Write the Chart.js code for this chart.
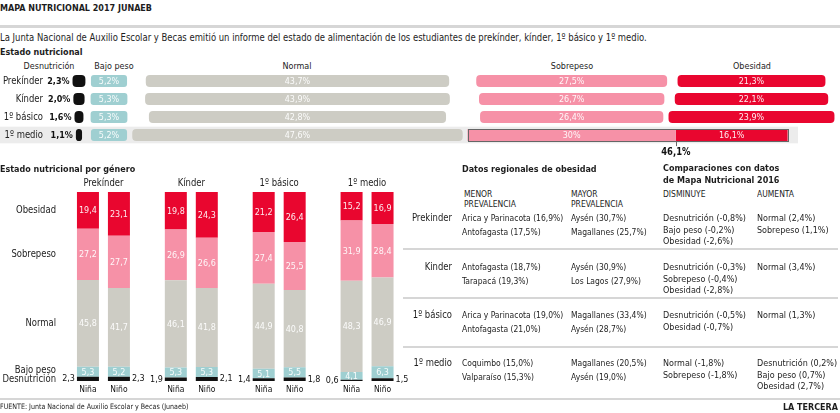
<!DOCTYPE html>
<html>
<head>
<meta charset="utf-8">
<script src="https://cdn.jsdelivr.net/npm/chart.js@4/dist/chart.umd.min.js"></script>
<style>
  body { margin:0; width:840px; height:413px; position:relative; overflow:hidden; background:#fff;
         font-family:"DejaVu Sans Condensed","DejaVu Sans",sans-serif; color:#1d1d1d; }
  .t { position:absolute; white-space:nowrap; line-height:12px; font-size:10px;
       transform-origin:left center; transform:scaleX(.94); }
  .b { font-weight:bold; }
  .r { transform-origin:right center; transform:translateX(-100%) scaleX(.94); }
  .c { transform-origin:center center; transform:translateX(-50%) scaleX(.94); }
  .hr { position:absolute; height:2px; background:#d6d6d6; }
  canvas { position:absolute; }
</style>
</head>
<body>
<canvas id="top" width="840" height="91" style="left:0;top:72px"></canvas>
<canvas id="gen" width="420" height="238" style="left:0;top:160px"></canvas>
<div id="txt"></div>
<script>
// ---- datos: estado nutricional por nivel ----
const grades = ['Prekínder', 'Kínder', '1º básico', '1º medio'];
const estados = ['Desnutrición', 'Bajo peso', 'Normal', 'Sobrepeso', 'Obesidad'];
const desnutricion = [2.3, 2.0, 1.6, 1.1];
const bajoPeso = [5.2, 5.3, 5.3, 5.2];
const normal = [43.7, 43.9, 42.8, 47.6];
const sobrepeso = [27.5, 26.7, 26.4, 30];
const obesidad = [21.3, 22.1, 23.9, 16.1];

// ---- datos: por género ----
const generos = ['Niña', 'Niño'];
const nina = {
  desn:   [2.3, 1.9, 1.4, 0.6],
  bajo:   [5.3, 5.3, 5.1, 4.1],
  normal: [45.8, 46.1, 44.9, 48.3],
  sobre:  [27.2, 26.9, 27.4, 31.9],
  obes:   [19.4, 19.8, 21.2, 15.2]
};
const nino = {
  desn:   [2.3, 2.1, 1.8, 1.5],
  bajo:   [5.2, 5.3, 5.5, 6.3],
  normal: [41.7, 41.8, 40.8, 46.9],
  sobre:  [27.7, 26.6, 25.5, 28.4],
  obes:   [23.1, 24.3, 26.4, 16.9]
};

// ---- tablas de texto ----
const tablaGrades = ['Prekinder', 'Kinder', '1º básico', '1º medio'];
const menorPrev = [
  ['Arica y Parinacota (16,9%)', 'Antofagasta (17,5%)'],
  ['Antofagasta (18,7%)', 'Tarapacá (19,3%)'],
  ['Arica y Parinacota (19,0%)', 'Antofagasta (21,0%)'],
  ['Coquimbo (15,0%)', 'Valparaíso (15,3%)']
];
const mayorPrev = [
  ['Aysén (30,7%)', 'Magallanes (25,7%)'],
  ['Aysén (30,9%)', 'Los Lagos (27,9%)'],
  ['Magallanes (33,4%)', 'Aysén (28,7%)'],
  ['Magallanes (20,5%)', 'Aysén (19,0%)']
];
const disminuye = [
  ['Desnutrición (-0,8%)', 'Bajo peso (-0,2%)', 'Obesidad (-2,6%)'],
  ['Desnutrición (-0,3%)', 'Sobrepeso (-0,4%)', 'Obesidad (-2,8%)'],
  ['Desnutrición (-0,5%)', 'Obesidad (-0,7%)'],
  ['Normal (-1,8%)', 'Sobrepeso (-1,8%)']
];
const aumenta = [
  ['Normal (2,4%)', 'Sobrepeso (1,1%)'],
  ['Normal (3,4%)'],
  ['Normal (1,3%)'],
  ['Desnutrición (0,2%)', 'Bajo peso (0,7%)', 'Obesidad (2,7%)']
];

const COLORS = { desn: '#111111', bajo: '#9fcfd1', normal: '#cdccc4', sobre: '#f691a7', obes: '#e9062f' };
const FONT = '"DejaVu Sans Condensed","DejaVu Sans",sans-serif';
const SX = 0.94; // estrechar el texto
const fmt = v => String(v).replace('.', ',');
const pct = v => (v % 1 === 0 && v >= 10 ? String(v) : v.toFixed(1)).replace('.', ',') + '%';

// ---------- textos html ----------
const box = document.getElementById('txt');
function txt(x, cy, s, cls = '', size = 10) {
  const d = document.createElement('div');
  d.className = 't ' + cls;
  d.style.left = x + 'px';
  d.style.top = (cy - 6) + 'px';
  d.style.fontSize = size + 'px';
  d.textContent = s;
  box.appendChild(d);
}
function hr(x, y, w, h = 2) {
  const d = document.createElement('div');
  d.className = 'hr';
  d.style.cssText = `left:${x}px;top:${y}px;width:${w}px;height:${h}px`;
  box.appendChild(d);
}

txt(0, 8, 'MAPA NUTRICIONAL 2017 JUNAEB', 'b', 9.5);
hr(0, 25, 840, 3);
txt(0, 38, 'La Junta Nacional de Auxilio Escolar y Becas emitió un informe del estado de alimentación de los estudiantes de prekínder, kínder, 1º básico y 1º medio.', '', 10);
txt(0, 52, 'Estado nutricional', 'b', 9.5);
txt(49, 66, 'Desnutrición', 'c', 9.5);
txt(114, 66, 'Bajo peso', 'c', 9.5);
txt(297, 66, 'Normal', 'c', 9.5);
txt(572, 66, 'Sobrepeso', 'c', 9.5);
txt(752, 66, 'Obesidad', 'c', 9.5);

txt(0, 169, 'Estado nutricional por género', 'b', 9.5);

// tablas
txt(462, 169, 'Datos regionales de obesidad', 'b', 9.5);
txt(464, 194, 'MENOR', '', 9); txt(464, 204, 'PREVALENCIA', '', 9);
txt(571, 194, 'MAYOR', '', 9); txt(571, 204, 'PREVALENCIA', '', 9);
txt(663, 168, 'Comparaciones con datos', 'b', 9.5);
txt(663, 180, 'de Mapa Nutricional 2016', 'b', 9.5);
txt(663, 194, 'DISMINUYE', '', 9);
txt(757, 194, 'AUMENTA', '', 9);
const rowY = [218, 267, 315, 363];
tablaGrades.forEach((g, i) => {
  txt(452, rowY[i], g, 'r', 10);
  menorPrev[i].forEach((s, j) => txt(462, rowY[i] + j * 13.5, s, '', 9));
  mayorPrev[i].forEach((s, j) => txt(571, rowY[i] + j * 13.5, s, '', 9));
  disminuye[i].forEach((s, j) => txt(663, rowY[i] + j * 11.6, s, '', 9.5));
  aumenta[i].forEach((s, j) => txt(757, rowY[i] + j * 11.6, s, '', 9.5));
});
[248, 297, 346].forEach(y => hr(403, y, 435, 1.5));
hr(0, 398, 840, 2);
txt(0, 407, 'FUENTE: Junta Nacional de Auxilio Escolar y Becas (Junaeb)', '', 7.5);
txt(838, 407, 'LA TERCERA', 'b r', 9.5);

// texto en canvas, estrechado igual que el html
function say(c, s, x, y, align, font, color) {
  c.save();
  c.font = font; c.fillStyle = color; c.textAlign = align; c.textBaseline = 'middle';
  c.translate(x, y); c.scale(SX, 1);
  c.fillText(s, 0, 0);
  c.restore();
}

// ---------- gráfico superior ----------
const COL = { desn: 14.1, bajo: 15.7, normal: 42.85, sobre: 82.35, obes: 108.25 }; // centros de columna (en %)
const HL = 3; // fila destacada (1º medio)
const centered = (vals, c) => vals.map(v => [c - v / 2, c + v / 2]);
const obesBars = obesidad.map((v, i) => i === HL
  ? [COL.sobre + sobrepeso[i] / 2, COL.sobre + sobrepeso[i] / 2 + v]
  : [COL.obes - v / 2, COL.obes + v / 2]);

const topPlugin = {
  id: 'topPlugin',
  beforeDatasetsDraw(chart) {
    const c = chart.ctx, y = chart.scales.y.getPixelForValue(HL);
    c.save();
    c.fillStyle = '#ececec';
    c.fillRect(0, y - 8.3, 798, 16.6);
    c.restore();
  },
  afterDatasetsDraw(chart) {
    const c = chart.ctx, ys = chart.scales.y;
    grades.forEach((g, i) => say(c, g, 43, ys.getPixelForValue(i) + 0.5, 'right', '10px ' + FONT, '#222'));
    chart.data.datasets.forEach((ds, di) => {
      chart.getDatasetMeta(di).data.forEach((bar, i) => {
        const v = ds.raw[i];
        const left = Math.min(bar.x, bar.base), right = Math.max(bar.x, bar.base);
        if (di === 0) say(c, pct(v), left - 3, bar.y + 0.5, 'right', 'bold 9.5px ' + FONT, '#111');
        else say(c, pct(v), (left + right) / 2, bar.y + 0.5, 'center', '9.5px ' + FONT, 'rgba(255,255,255,0.92)');
      });
    });
    // recuadro y total de la fila destacada
    const s = chart.getDatasetMeta(3).data[HL], o = chart.getDatasetMeta(4).data[HL];
    const h = s.height;
    c.save();
    c.strokeStyle = '#666'; c.lineWidth = 1;
    c.strokeRect(Math.round(s.base) + 0.5, Math.round(s.y - h / 2) + 0.5, Math.round(o.x - s.base), Math.round(h));
    c.beginPath(); c.moveTo(Math.round(o.base) + 0.5, s.y + h / 2); c.lineTo(Math.round(o.base) + 0.5, s.y + h / 2 + 5); c.stroke();
    c.restore();
    say(c, pct(Math.round((sobrepeso[HL] + obesidad[HL]) * 10) / 10), o.base, s.y + h / 2 + 11, 'center', 'bold 10px ' + FONT, '#111');
  }
};

const rad = r => ctx => ctx.dataIndex === HL && ctx.datasetIndex >= 3 ? 0 : r;
new Chart(document.getElementById('top'), {
  type: 'bar',
  data: {
    labels: grades,
    datasets: [
      { label: estados[0], raw: desnutricion, data: centered(desnutricion, COL.desn), xAxisID: 'xd', backgroundColor: COLORS.desn, borderRadius: 4 },
      { label: estados[1], raw: bajoPeso, data: centered(bajoPeso, COL.bajo), backgroundColor: COLORS.bajo, borderRadius: 3 },
      { label: estados[2], raw: normal, data: centered(normal, COL.normal), backgroundColor: COLORS.normal, borderRadius: 4 },
      { label: estados[3], raw: sobrepeso, data: centered(sobrepeso, COL.sobre), backgroundColor: COLORS.sobre, borderRadius: rad(4) },
      { label: estados[4], raw: obesidad, data: obesBars, backgroundColor: COLORS.obes, borderRadius: rad(4) }
    ]
  },
  options: {
    indexAxis: 'y',
    responsive: false,
    animation: false,
    layout: { padding: { top: 0, bottom: 19, left: 0, right: 0 } },
    datasets: { bar: { grouped: false, categoryPercentage: 1, barPercentage: 0.68, borderSkipped: false } },
    plugins: { legend: { display: false }, tooltip: { enabled: false } },
    scales: {
      y: { display: false },
      x: { type: 'linear', display: false, min: 0, max: 121 },
      xd: { type: 'linear', axis: 'x', display: false, min: 0, max: 150 }
    }
  },
  plugins: [topPlugin]
});

// ---------- gráfico por género ----------
const keys = ['desn', 'bajo', 'normal', 'sobre', 'obes'];
const genDatasets = [];
[nina, nino].forEach((g, gi) => {
  keys.forEach((k, ki) => {
    genDatasets.push({
      label: estados[ki] + ' ' + generos[gi],
      data: g[k],
      stack: generos[gi],
      key: k,
      gender: gi,
      backgroundColor: COLORS[k],
      borderColor: '#fff',
      borderWidth: k === 'bajo' ? { bottom: 1.5 } : 0
    });
  });
});

const genPlugin = {
  id: 'genPlugin',
  afterDatasetsDraw(chart) {
    const c = chart.ctx, area = chart.chartArea, xs = chart.scales.x;
    grades.forEach((g, i) => say(c, g, xs.getPixelForValue(i), area.top - 9, 'center', '10px ' + FONT, '#222'));
    chart.data.datasets.forEach((ds, di) => {
      chart.getDatasetMeta(di).data.forEach((bar, i) => {
        const v = ds.data[i], cy = (bar.y + bar.base) / 2;
        if (ds.key === 'desn') {
          if (ds.gender === 0) say(c, fmt(v), bar.x - bar.width / 2 - 2, cy, 'right', '9.5px ' + FONT, '#111');
          else say(c, fmt(v), bar.x + bar.width / 2 + 2, cy, 'left', '9.5px ' + FONT, '#111');
          say(c, generos[ds.gender], bar.x, area.bottom + 8.5, 'center', '9px ' + FONT, '#111');
        } else {
          say(c, fmt(v), bar.x, cy + 0.5, 'center', '9.5px ' + FONT, 'rgba(255,255,255,0.92)');
        }
        // etiquetas de estado a la izquierda, alineadas con la primera barra
        if (di < keys.length && i === 0) {
          const dy = ds.key === 'bajo' ? -1 : ds.key === 'desn' ? 1 : 0;
          say(c, estados[di], 56, cy + dy, 'right', '10px ' + FONT, '#222');
        }
      });
    });
  }
};

new Chart(document.getElementById('gen'), {
  type: 'bar',
  data: { labels: grades, datasets: genDatasets },
  options: {
    responsive: false,
    animation: false,
    layout: { padding: { left: 59.5, right: 9, top: 32, bottom: 17 } },
    datasets: { bar: { categoryPercentage: 0.705, barPercentage: 0.71 } },
    plugins: { legend: { display: false }, tooltip: { enabled: false } },
    scales: {
      x: { display: false, stacked: true },
      y: { display: false, stacked: true, min: 0, max: 100 }
    }
  },
  plugins: [genPlugin]
});
</script>
</body>
</html>
